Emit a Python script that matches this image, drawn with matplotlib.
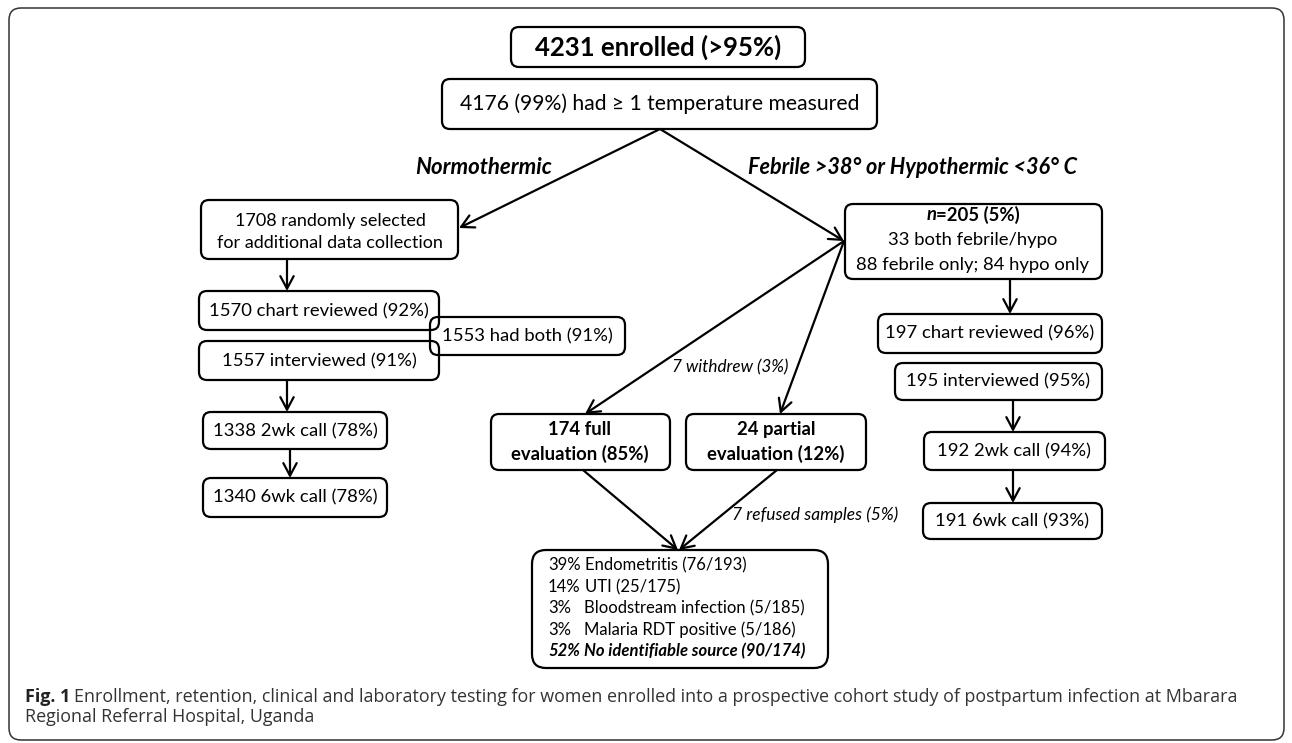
import matplotlib
matplotlib.use("Agg")
import matplotlib.pyplot as plt
from matplotlib.patches import FancyBboxPatch, FancyArrowPatch
from matplotlib import font_manager

# ---------------- data (text content of the flowchart) ----------------
top_label = "4231 enrolled (>95%)"
temp_label = "4176 (99%) had \u2265 1 temperature measured"
branch_labels = ["Normothermic", "Febrile >38\u00b0 or Hypothermic <36\u00b0 C"]
normo_steps = ["1708 randomly selected\nfor additional data collection",
               "1570 chart reviewed (92%)",
               "1557 interviewed (91%)",
               "1338 2wk call (78%)",
               "1340 6wk call (78%)"]
both_label = "1553 had both (91%)"
febrile_head = ["n", "=205 (5%)"]
febrile_lines = ["33 both febrile/hypo", "88 febrile only; 84 hypo only"]
febrile_steps = ["197 chart reviewed (96%)",
                 "195 interviewed (95%)",
                 "192 2wk call (94%)",
                 "191 6wk call (93%)"]
eval_labels = ["174 full\nevaluation (85%)", "24 partial\nevaluation (12%)"]
withdrew_label = "7 withdrew (3%)"
refused_label = "7 refused samples (5%)"
result_pct = ["39%", "14%", "3%", "3%", "52%"]
result_text = ["Endometritis (76/193)", "UTI (25/175)",
               "Bloodstream infection (5/185)", "Malaria RDT positive (5/186)",
               "No identifiable source (90/174)"]
caption_bold = "Fig. 1"
caption_line1 = ("Enrollment, retention, clinical and laboratory testing for women enrolled "
                 "into a prospective cohort study of postpartum infection at Mbarara")
caption_line2 = "Regional Referral Hospital, Uganda"

# ---------------- fonts ----------------
avail = {f.name for f in font_manager.fontManager.ttflist}
BOX_FONT = [f for f in ["Lato", "Open Sans", "DejaVu Sans"] if f in avail]
CAP_FONT = [f for f in ["Liberation Sans Narrow", "Open Sans", "DejaVu Sans"] if f in avail]

W, H = 1292, 743
fig = plt.figure(figsize=(W / 100, H / 100), dpi=100)
ax = fig.add_axes([0, 0, 1, 1])
ax.set_xlim(0, W)
ax.set_ylim(H, 0)
ax.axis("off")
fig.canvas.draw()
renderer = fig.canvas.get_renderer()

LW = 1.6


def box(x0, y0, x1, y1, r=8, lw=LW, ec="black"):
    p = FancyBboxPatch((x0, y0), x1 - x0, y1 - y0,
                       boxstyle=f"round,pad=0,rounding_size={r}",
                       fc="none", ec=ec, lw=lw, mutation_aspect=1)
    ax.add_patch(p)


def arrow(a, b):
    ax.add_patch(FancyArrowPatch(a, b, arrowstyle="->,head_length=0.6,head_width=0.32",
                                 mutation_scale=15, lw=LW, color="black",
                                 shrinkA=0, shrinkB=0))


def txt(x, y, s, size=13, ha="center", weight="normal", style="normal", family=None,
        color="black"):
    return ax.text(x, y, s, ha=ha, va="center", fontsize=size, fontweight=weight,
                   fontstyle=style, family=family or BOX_FONT, linespacing=1.4,
                   color=color)


def width(t):
    return t.get_window_extent(renderer).width


# outer frame
box(9, 8, 1284, 740, r=12, lw=1.1, ec="#333333")

# top boxes
box(511, 27, 805, 67)
txt(658, 47, top_label, size=18.5, weight="bold")
box(442, 79, 877, 129)
txt(660, 104, temp_label, size=15.2)

# branch labels
txt(484, 168, branch_labels[0], size=16, weight="bold", style="italic")
txt(912, 168, branch_labels[1], size=15.6, weight="bold", style="italic")
arrow((660, 129), (459, 228))
arrow((660, 129), (844, 241))

# normothermic column
box(201, 200, 458, 259)
txt(330, 232, normo_steps[0], size=13)
arrow((287, 259), (287, 291))
box(199, 291, 439, 330)
txt(319, 311, normo_steps[1], size=13.3)
box(430, 317, 625, 355)
txt(527, 336, both_label, size=13.3)
box(199, 341, 439, 380)
txt(319, 361, normo_steps[2], size=13.3)
arrow((287, 380), (287, 412))
box(203, 412, 387, 449)
txt(295, 431, normo_steps[3], size=13.3)
arrow((290, 449), (290, 478))
box(203, 478, 387, 517)
txt(295, 497, normo_steps[4], size=13.3)

# febrile box
box(845, 204, 1102, 279)
t1 = txt(0, 215, febrile_head[0], size=13.3, weight="bold", style="italic", ha="left")
t2 = txt(0, 215, febrile_head[1], size=13.3, weight="bold", ha="left")
w1, w2 = width(t1), width(t2)
xs = 973 - (w1 + w2) / 2
t1.set_x(xs)
t2.set_x(xs + w1)
txt(973, 240, febrile_lines[0], size=13.3)
txt(973, 265, febrile_lines[1], size=13.3)

# febrile column
arrow((1010, 279), (1010, 314))
box(878, 314, 1102, 353)
txt(990, 333, febrile_steps[0], size=13.3)
box(895, 363, 1102, 400)
txt(998, 381, febrile_steps[1], size=13.3)
arrow((1013, 400), (1013, 432))
box(924, 432, 1105, 470)
txt(1014, 451, febrile_steps[2], size=13.3)
arrow((1013, 470), (1013, 503))
box(923, 503, 1102, 539)
txt(1012, 521, febrile_steps[3], size=13.3)

# evaluation boxes
arrow((844, 241), (585, 414))
arrow((844, 241), (780, 414))
txt(730, 367, withdrew_label, size=12.3, style="italic")
box(491, 414, 670, 470)
txt(580, 442, eval_labels[0], size=13.3, weight="bold")
box(686, 414, 866, 470)
txt(776, 442, eval_labels[1], size=13.3, weight="bold")

arrow((583, 470), (678, 550))
arrow((777, 470), (679, 550))
txt(815, 515, refused_label, size=12.5, style="italic")

# results box
box(532, 550, 828, 668, r=14)
ys = [565, 587, 608, 630, 651]
label_x = 584
for i, (p, t, y) in enumerate(zip(result_pct, result_text, ys)):
    last = i == len(result_pct) - 1
    w = "bold" if last else "normal"
    st = "italic" if last else "normal"
    tp = txt(548, y, p, size=12, ha="left", weight=w, style=st)
    tl = txt(label_x, y, t, size=12, ha="left", weight=w, style=st)
    pw = width(tp)
    if 548 + pw + 4 > label_x:
        tl.set_x(548 + pw + 4)

# caption
cap_size = 14
cb = ax.text(25, 697, caption_bold, ha="left", va="center", fontsize=cap_size,
             fontweight="bold", family=CAP_FONT, color="#222222")
c1 = ax.text(0, 697, caption_line1, ha="left", va="center", fontsize=cap_size,
             family=CAP_FONT, color="#333333")
total = width(cb) + 5 + width(c1)
scale = 1220 / total
cap_size *= scale
cb.set_fontsize(cap_size)
c1.set_fontsize(cap_size)
c1.set_x(25 + width(cb) + 4)
ax.text(25, 717, caption_line2, ha="left", va="center", fontsize=cap_size,
        family=CAP_FONT, color="#333333")

fig.savefig("out.png", dpi=100)
